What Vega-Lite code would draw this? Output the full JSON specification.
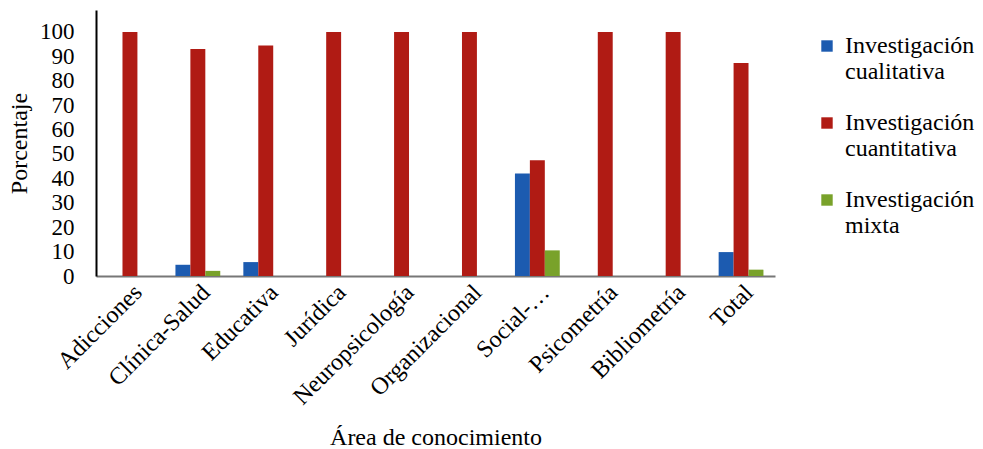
{
  "$schema": "https://vega.github.io/schema/vega-lite/v6.json",
  "width": 679,
  "height": 266,
  "autosize": "none",
  "padding": {"left": 96, "top": 10, "right": 208, "bottom": 173},
  "background": "white",
  "config": {
    "view": {"stroke": null},
    "font": "Liberation Serif, Times New Roman, serif"
  },
  "data": {
    "values": [
      {"area": "Adicciones", "tipo": "Investigación cualitativa", "pct": 0},
      {"area": "Adicciones", "tipo": "Investigación cuantitativa", "pct": 100},
      {"area": "Adicciones", "tipo": "Investigación mixta", "pct": 0},
      {"area": "Clínica-Salud", "tipo": "Investigación cualitativa", "pct": 4.6},
      {"area": "Clínica-Salud", "tipo": "Investigación cuantitativa", "pct": 93},
      {"area": "Clínica-Salud", "tipo": "Investigación mixta", "pct": 2.1},
      {"area": "Educativa", "tipo": "Investigación cualitativa", "pct": 5.7},
      {"area": "Educativa", "tipo": "Investigación cuantitativa", "pct": 94.5},
      {"area": "Educativa", "tipo": "Investigación mixta", "pct": 0},
      {"area": "Jurídica", "tipo": "Investigación cualitativa", "pct": 0},
      {"area": "Jurídica", "tipo": "Investigación cuantitativa", "pct": 100},
      {"area": "Jurídica", "tipo": "Investigación mixta", "pct": 0},
      {"area": "Neuropsicología", "tipo": "Investigación cualitativa", "pct": 0},
      {"area": "Neuropsicología", "tipo": "Investigación cuantitativa", "pct": 100},
      {"area": "Neuropsicología", "tipo": "Investigación mixta", "pct": 0},
      {"area": "Organizacional", "tipo": "Investigación cualitativa", "pct": 0},
      {"area": "Organizacional", "tipo": "Investigación cuantitativa", "pct": 100},
      {"area": "Organizacional", "tipo": "Investigación mixta", "pct": 0},
      {"area": "Social-…", "tipo": "Investigación cualitativa", "pct": 42},
      {"area": "Social-…", "tipo": "Investigación cuantitativa", "pct": 47.4},
      {"area": "Social-…", "tipo": "Investigación mixta", "pct": 10.5},
      {"area": "Psicometría", "tipo": "Investigación cualitativa", "pct": 0},
      {"area": "Psicometría", "tipo": "Investigación cuantitativa", "pct": 100},
      {"area": "Psicometría", "tipo": "Investigación mixta", "pct": 0},
      {"area": "Bibliometría", "tipo": "Investigación cualitativa", "pct": 0},
      {"area": "Bibliometría", "tipo": "Investigación cuantitativa", "pct": 100},
      {"area": "Bibliometría", "tipo": "Investigación mixta", "pct": 0},
      {"area": "Total", "tipo": "Investigación cualitativa", "pct": 9.8},
      {"area": "Total", "tipo": "Investigación cuantitativa", "pct": 87.3},
      {"area": "Total", "tipo": "Investigación mixta", "pct": 2.6}
    ]
  },
  "mark": {"type": "bar"},
  "encoding": {
    "x": {
      "field": "area",
      "type": "nominal",
      "sort": null,
      "scale": {"paddingInner": 0.34, "paddingOuter": 0.17},
      "axis": {
        "title": "Área de conocimiento",
        "titleFont": "Liberation Serif, Times New Roman, serif",
        "titleFontSize": 24,
        "titleFontWeight": "normal",
        "titleColor": "black",
        "titlePadding": 16,
        "labelAngle": -45,
        "labelFont": "Liberation Serif, Times New Roman, serif",
        "labelFontSize": 24,
        "labelColor": "black",
        "labelPadding": 4,
        "ticks": false,
        "domainColor": "#777777",
        "domainWidth": 2
      }
    },
    "y": {
      "field": "pct",
      "type": "quantitative",
      "scale": {"domain": [0, 109], "nice": false},
      "axis": {
        "title": "Porcentaje",
        "titleFont": "Liberation Serif, Times New Roman, serif",
        "titleFontSize": 24,
        "titleFontWeight": "normal",
        "titleColor": "black",
        "titlePadding": 8,
        "values": [0, 10, 20, 30, 40, 50, 60, 70, 80, 90, 100],
        "labelFont": "Liberation Serif, Times New Roman, serif",
        "labelFontSize": 23,
        "labelColor": "black",
        "labelPadding": 22,
        "ticks": false,
        "grid": false,
        "domainColor": "black",
        "domainWidth": 2
      }
    },
    "xOffset": {"field": "tipo", "type": "nominal"},
    "color": {
      "field": "tipo",
      "type": "nominal",
      "scale": {
        "domain": ["Investigación cualitativa", "Investigación cuantitativa", "Investigación mixta"],
        "range": ["#1c5bb0", "#b01b14", "#79a22a"]
      },
      "legend": {
        "title": null,
        "orient": "none",
        "legendX": 719,
        "legendY": 24,
        "symbolType": "square",
        "symbolSize": 130,
        "labelFont": "Liberation Serif, Times New Roman, serif",
        "labelFontSize": 24,
        "labelColor": "black",
        "labelBaseline": "middle",
        "labelOffset": 6,
        "labelLimit": 200,
        "rowPadding": 27,
        "labelExpr": "split(datum.label, ' ')"
      }
    }
  }
}
